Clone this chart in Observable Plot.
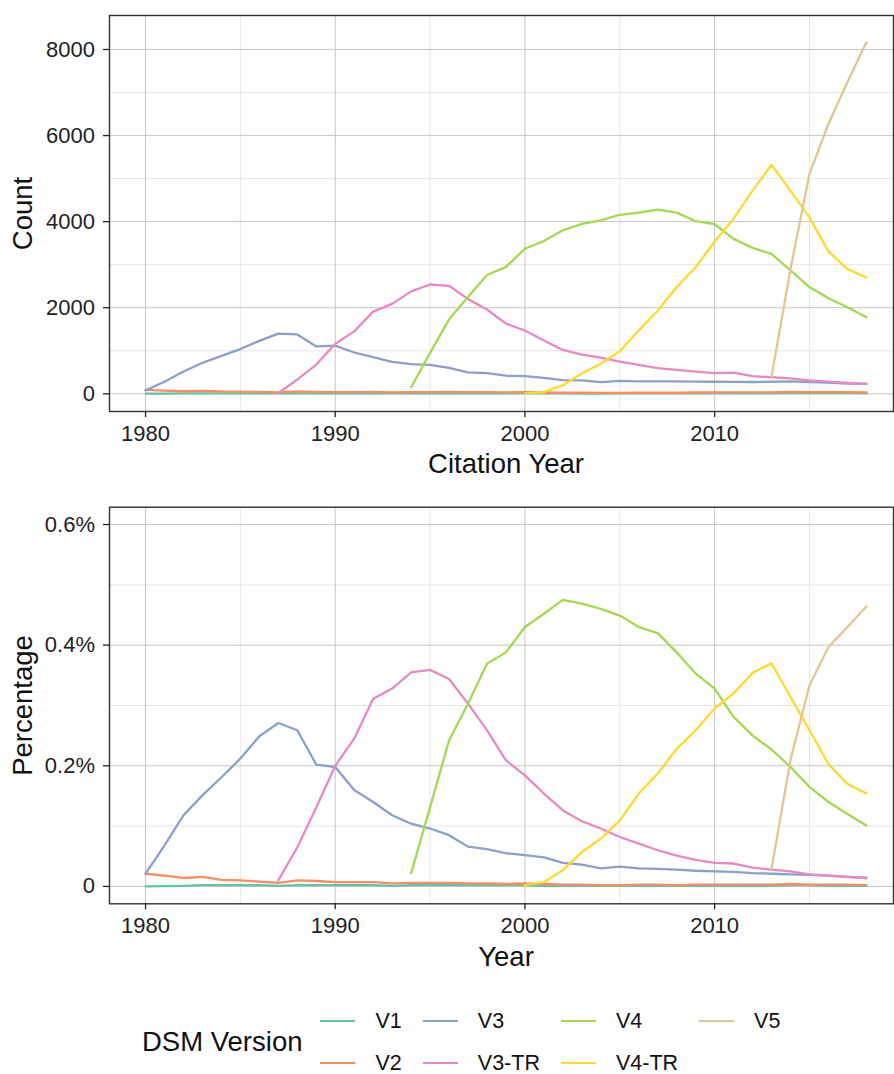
<!DOCTYPE html>
<html>
<head>
<meta charset="utf-8">
<script src="https://cdn.jsdelivr.net/npm/d3@7"></script>
<script src="https://cdn.jsdelivr.net/npm/@observablehq/plot@0.6"></script>
<style>
  html, body { margin: 0; padding: 0; background: #fff; overflow: hidden; }
  body { width: 894px; height: 1074px; position: relative; font-family: "Liberation Sans", Arial, sans-serif; }
  #top { position: absolute; left: 0; top: 0; }
  #bottom { position: absolute; left: 0; top: 490px; }
  #legend { position: absolute; left: 142px; top: 1000px; display: flex; align-items: center; }
  #legend .title { font-size: 27.5px; color: #111; margin-right: 18px; white-space: nowrap; }
  #legend .keys { display: grid; grid-template-rows: 42px 42px; grid-auto-flow: column; column-gap: 21px; }
  #legend .item { display: flex; align-items: center; font-size: 21.5px; color: #111; white-space: nowrap; }
  #legend .sw { width: 35px; height: 0; border-top: 2.4px solid; margin-right: 20px; }
</style>
</head>
<body>
<div id="top"></div>
<div id="bottom"></div>
<div id="legend"></div>
<script>
// ---------- data ----------
const years = [1980,1981,1982,1983,1984,1985,1986,1987,1988,1989,1990,1991,1992,1993,1994,1995,1996,1997,1998,1999,2000,2001,2002,2003,2004,2005,2006,2007,2008,2009,2010,2011,2012,2013,2014,2015,2016,2017,2018];
const versions = ["V1","V2","V3","V3-TR","V4","V4-TR","V5"];
const versionColors = ["#66C2A5","#FC8D62","#8DA0CB","#E78AC3","#A6D854","#FFD92F","#E5C494"];

// Counts (Citation Year)
const countV1 = [5,5,8,10,10,12,10,8,12,10,10,10,12,8,10,10,12,10,8,8,10,8,8,6,6,8,8,8,10,10,12,12,12,12,15,15,15,15,12];
const countV2 = [90,75,60,70,55,50,45,30,55,45,40,40,45,30,40,40,45,40,40,35,40,30,25,25,20,20,25,25,25,30,30,35,35,35,45,40,40,40,30];
const countV3 = [80,280,520,720,880,1040,1230,1400,1380,1100,1120,960,850,740,690,670,600,500,480,420,410,370,320,310,270,300,290,290,290,285,280,275,275,280,290,270,260,240,230];
const countV3TR = [null,null,null,null,null,null,null,20,330,680,1160,1450,1910,2090,2380,2540,2510,2200,1960,1630,1470,1240,1020,910,840,750,670,595,555,515,480,490,410,385,360,310,285,255,232];
const countV4 = [null,null,null,null,null,null,null,null,null,null,null,null,null,null,150,950,1730,2250,2760,2950,3370,3550,3800,3950,4030,4160,4210,4280,4210,4010,3940,3600,3390,3250,2870,2480,2220,2010,1780];
const countV4TR = [null,null,null,null,null,null,null,null,null,null,null,null,null,null,null,null,null,null,null,null,10,40,200,470,700,990,1470,1930,2480,2940,3540,4070,4720,5320,4720,4100,3310,2900,2700];
const countV5 = [null,null,null,null,null,null,null,null,null,null,null,null,null,null,null,null,null,null,null,null,null,null,null,null,null,null,null,null,null,null,null,null,null,400,2900,5110,6270,7240,8170];

// Percentages (Year), in percent units
const pctV1 = [0.000,0.0005,0.001,0.002,0.002,0.002,0.002,0.001,0.002,0.002,0.002,0.002,0.002,0.001,0.002,0.002,0.002,0.002,0.002,0.002,0.002,0.001,0.001,0.001,0.001,0.001,0.001,0.001,0.001,0.001,0.001,0.001,0.001,0.001,0.002,0.002,0.001,0.001,0.001];
const pctV2 = [0.021,0.018,0.014,0.016,0.011,0.010,0.008,0.006,0.010,0.009,0.007,0.007,0.007,0.005,0.006,0.006,0.006,0.005,0.005,0.004,0.005,0.004,0.003,0.003,0.002,0.002,0.003,0.003,0.002,0.003,0.003,0.003,0.003,0.003,0.004,0.003,0.003,0.003,0.002];
const pctV3 = [0.021,0.068,0.118,0.151,0.181,0.212,0.249,0.271,0.259,0.202,0.198,0.160,0.140,0.118,0.104,0.096,0.085,0.066,0.062,0.055,0.052,0.048,0.039,0.036,0.030,0.033,0.030,0.029,0.028,0.026,0.025,0.024,0.022,0.021,0.020,0.019,0.018,0.016,0.014];
const pctV3TR = [null,null,null,null,null,null,null,0.010,0.065,0.131,0.200,0.245,0.311,0.328,0.355,0.359,0.344,0.303,0.259,0.209,0.184,0.154,0.126,0.108,0.096,0.082,0.071,0.060,0.051,0.044,0.039,0.038,0.031,0.028,0.025,0.020,0.018,0.016,0.014];
const pctV4 = [null,null,null,null,null,null,null,null,null,null,null,null,null,null,0.022,0.131,0.242,0.303,0.369,0.388,0.430,0.452,0.475,0.469,0.460,0.449,0.430,0.420,0.388,0.353,0.328,0.281,0.250,0.227,0.198,0.165,0.140,0.120,0.101];
const pctV4TR = [null,null,null,null,null,null,null,null,null,null,null,null,null,null,null,null,null,null,null,null,0.002,0.007,0.027,0.057,0.079,0.109,0.154,0.187,0.228,0.259,0.295,0.320,0.354,0.370,0.314,0.259,0.203,0.170,0.154];
const pctV5 = [null,null,null,null,null,null,null,null,null,null,null,null,null,null,null,null,null,null,null,null,null,null,null,null,null,null,null,null,null,null,null,null,null,0.029,0.210,0.333,0.397,0.430,0.464];

// Ticks
const xTicks = [1980, 1990, 2000, 2010];
const xTickLabels = ["1980", "1990", "2000", "2010"];
const xMinor = [1985, 1995, 2005, 2015];
const countTicks = [0, 2000, 4000, 6000, 8000];
const countTickLabels = ["0", "2000", "4000", "6000", "8000"];
const countMinor = [1000, 3000, 5000, 7000];
const pctTicks = [0, 0.2, 0.4, 0.6];
const pctTickLabels = ["0", "0.2%", "0.4%", "0.6%"];
const pctMinor = [0.1, 0.3, 0.5];

// ---------- build rows ----------
function rowsFrom(seriesList) {
  const rows = [];
  seriesList.forEach((vals, k) => {
    vals.forEach((v, i) => { if (v != null) rows.push({year: years[i], version: versions[k], value: v}); });
  });
  return rows;
}
const countRows = rowsFrom([countV1, countV2, countV3, countV3TR, countV4, countV4TR, countV5]);
const pctRows = rowsFrom([pctV1, pctV2, pctV3, pctV3TR, pctV4, pctV4TR, pctV5]);

const FONT = "Liberation Sans, Arial, Helvetica, sans-serif";
const MAJOR = "#c6c6c6", MINOR = "#e6e6e6", INK = "#222";

function panel({rows, yDomain, yTicks, yLabels, yMinor, yTitle, xTitle, height, marginTop, marginBottom}) {
  const xMap = new Map(xTicks.map((t, i) => [t, xTickLabels[i]]));
  const yMap = new Map(yTicks.map((t, i) => [t, yLabels[i]]));
  return Plot.plot({
    width: 894, height, marginLeft: 109, marginRight: 1, marginTop, marginBottom,
    style: {fontFamily: FONT, background: "#fff", overflow: "visible"},
    x: {domain: [1978.1, 2019.43]},
    y: {domain: yDomain},
    color: {domain: versions, range: versionColors},
    marks: [
      Plot.gridX(xMinor, {stroke: MINOR, strokeOpacity: 1, strokeWidth: 1}),
      Plot.gridY(yMinor, {stroke: MINOR, strokeOpacity: 1, strokeWidth: 1}),
      Plot.gridX(xTicks, {stroke: MAJOR, strokeOpacity: 1, strokeWidth: 1}),
      Plot.gridY(yTicks, {stroke: MAJOR, strokeOpacity: 1, strokeWidth: 1}),
      Plot.line(rows, {x: "year", y: "value", stroke: "version", z: "version", strokeWidth: 2.3}),
      Plot.frame({stroke: "#333", strokeWidth: 1.4}),
      Plot.axisX(xTicks, {tickFormat: d => xMap.get(d), tickSize: 6, tickPadding: 8, fontSize: 22, color: INK, strokeWidth: 1.3, label: null}),
      Plot.axisY(yTicks, {tickFormat: d => yMap.get(d), tickSize: 6, tickPadding: 8.5, fontSize: 22, color: INK, strokeWidth: 1.3, label: null}),
      Plot.text([yTitle], {frameAnchor: "left", rotate: -90, dx: -86, textAnchor: "middle", lineAnchor: "middle", fontSize: 27.5, fill: "#111"}),
      Plot.text([xTitle], {frameAnchor: "bottom", dx: 4.5, dy: 61.7, textAnchor: "middle", lineAnchor: "bottom", fontSize: 27.5, fill: "#111"})
    ]
  });
}

document.getElementById("top").append(panel({
  rows: countRows, yDomain: [-411, 8790], yTicks: countTicks, yLabels: countTickLabels, yMinor: countMinor,
  yTitle: "Count", xTitle: "Citation Year", height: 490, marginTop: 15, marginBottom: 79
}));
document.getElementById("bottom").append(panel({
  rows: pctRows, yDomain: [-0.0288, 0.6287], yTicks: pctTicks, yLabels: pctTickLabels, yMinor: pctMinor,
  yTitle: "Percentage", xTitle: "Year", height: 500, marginTop: 16.7, marginBottom: 86.7
}));

// ---------- legend ----------
const legend = document.getElementById("legend");
const title = document.createElement("div");
title.className = "title";
title.textContent = "DSM Version";
legend.append(title);
const keys = document.createElement("div");
keys.className = "keys";
versions.forEach((v, i) => {
  const item = document.createElement("div");
  item.className = "item";
  const sw = document.createElement("span");
  sw.className = "sw";
  sw.style.borderTopColor = versionColors[i];
  const lab = document.createElement("span");
  lab.textContent = v;
  item.append(sw, lab);
  keys.append(item);
});
legend.append(keys);
</script>
</body>
</html>
